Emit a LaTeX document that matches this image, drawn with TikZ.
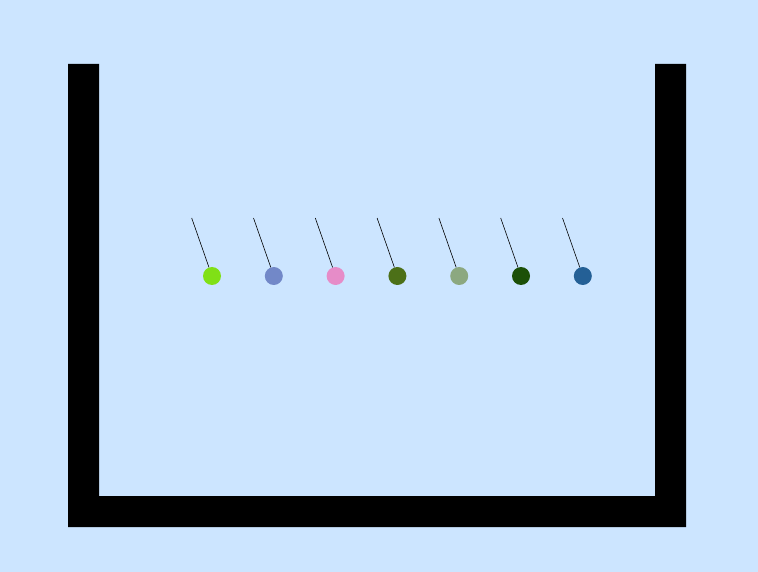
\documentclass[tikz,border=0pt]{standalone}
\definecolor{bgblue}{RGB}{204,229,255}
\definecolor{ballA}{RGB}{128,224,22}
\definecolor{ballB}{RGB}{114,136,200}
\definecolor{ballC}{RGB}{230,140,200}
\definecolor{ballD}{RGB}{76,112,24}
\definecolor{ballE}{RGB}{140,168,128}
\definecolor{ballF}{RGB}{28,80,8}
\definecolor{ballG}{RGB}{36,96,150}
\tikzset{
  ball/.style={circle, inner sep=0pt, minimum size=18pt},
  string/.style={line width=0.6pt, black}
}
\begin{document}
\begin{tikzpicture}[x=1pt, y=-1pt]
	% Background
	\fill [bgblue] (0,0) rectangle (758,572);
	\useasboundingbox (0,0) rectangle (758,572);
	% Container
	\fill [black] (68,64) -- (99,64) -- (99,496) -- (655,496) -- (655,64) -- (686,64) -- (686,527) -- (68,527) -- cycle;
	% Pivots
	\coordinate (p1) at (191.7,218);
	\coordinate (p2) at (253.5,218);
	\coordinate (p3) at (315.3,218);
	\coordinate (p4) at (377.1,218);
	\coordinate (p5) at (438.9,218);
	\coordinate (p6) at (500.7,218);
	\coordinate (p7) at (562.5,218);
	% Balls
	\node [ball, fill=ballA] (b1) at (212,276) {};
	\node [ball, fill=ballB] (b2) at (273.8,276) {};
	\node [ball, fill=ballC] (b3) at (335.6,276) {};
	\node [ball, fill=ballD] (b4) at (397.4,276) {};
	\node [ball, fill=ballE] (b5) at (459.2,276) {};
	\node [ball, fill=ballF] (b6) at (521,276) {};
	\node [ball, fill=ballG] (b7) at (582.8,276) {};
	% Strings
	\draw [string] (p1) -- (b1);
	\draw [string] (p2) -- (b2);
	\draw [string] (p3) -- (b3);
	\draw [string] (p4) -- (b4);
	\draw [string] (p5) -- (b5);
	\draw [string] (p6) -- (b6);
	\draw [string] (p7) -- (b7);
\end{tikzpicture}
\end{document}
